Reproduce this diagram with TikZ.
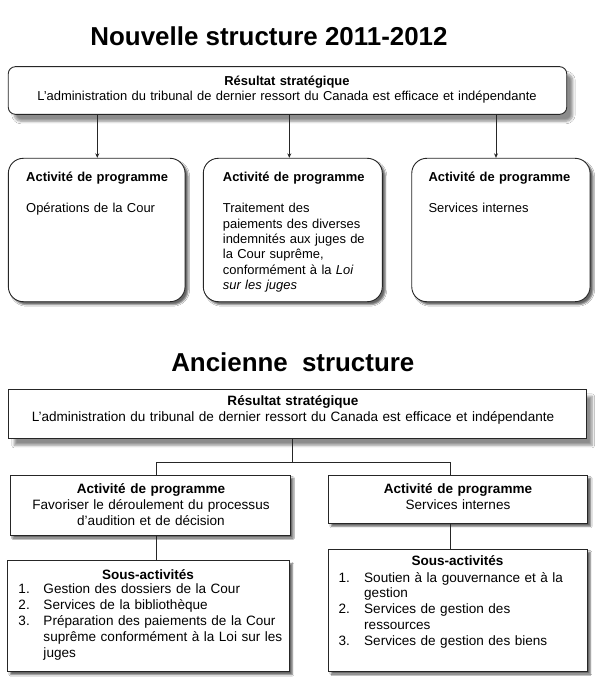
\documentclass[tikz,border=0pt]{standalone}
\usepackage{fontspec}
\setmainfont{Liberation Sans}
\usetikzlibrary{shadows.blur,arrows.meta,calc}
\begin{document}
\begin{tikzpicture}[x=1bp,y=-1bp,
  line/.style={draw=black!85, line width=0.9bp},
  bigshadow/.style={blur shadow={shadow xshift=6bp, shadow yshift=-7bp, shadow blur radius=2.5bp, shadow blur steps=6, shadow opacity=45}},
  smallshadow/.style={blur shadow={shadow xshift=3bp, shadow yshift=-3bp, shadow blur radius=1.5bp, shadow blur steps=4, shadow opacity=60}},
  box/.style={line, fill=white, inner sep=0pt},
  titletxt/.style={font=\fontsize{26}{30}\selectfont\bfseries, inner sep=0pt},
  txt/.style={font=\fontsize{13}{15.5}\selectfont, inner sep=0pt},
  txtb/.style={font=\fontsize{13.6}{16}\selectfont, inner sep=0pt},
  conn/.style={draw=black!85, line width=0.9bp},
  arr/.style={conn, -{Stealth[length=4.5bp,width=4bp]}},
]
\useasboundingbox[fill=white] (0,0) rectangle (595,691);

% ---------- Nouvelle structure ----------
\node[titletxt, anchor=base] (title1) at (269,46) {Nouvelle structure 2011-2012};

\node[box, bigshadow, rounded corners=7bp, minimum width=558.4bp, minimum height=47.6bp] (rs1) at (287.5,90.5) {};
\node[txt, anchor=base, text width=550bp, align=center] (rs1t) at (287,85.3)
  {\textbf{Résultat stratégique}\\L'administration du tribunal de dernier ressort du Canada est efficace et indépendante};

\node[box, smallshadow, rounded corners=15bp, minimum width=176.7bp, minimum height=143.4bp] (ap1) at (96.7,230) {};
\node[box, smallshadow, rounded corners=15bp, minimum width=179bp, minimum height=143.4bp] (ap2) at (292.8,230) {};
\node[box, smallshadow, rounded corners=15bp, minimum width=178.3bp, minimum height=143.4bp] (ap3) at (500.9,230) {};

\node[txt, anchor=base west, text width=155bp, align=left] (ap1t) at (26,181.7)
  {\textbf{Activité de programme}\\[15.5bp]Opérations de la Cour};
\node[txt, anchor=base west, text width=158bp, align=left] (ap2t) at (222.7,181.7)
  {\textbf{Activité de programme}\\[15.5bp]Traitement des\\paiements des diverses\\indemnités aux juges de\\la Cour suprême,\\conformément à la \textit{Loi}\\\textit{sur les juges}};
\node[txt, anchor=base west, text width=155bp, align=left] (ap3t) at (428.3,181.7)
  {\textbf{Activité de programme}\\[15.5bp]Services internes};

\coordinate (a1) at ([xshift=0.6bp]ap1.north);
\coordinate (a2) at ([xshift=-3.5bp]ap2.north);
\coordinate (a3) at ([xshift=-4.9bp]ap3.north);
\draw[arr] (rs1.south -| a1) -- (a1);
\draw[arr] (rs1.south -| a2) -- (a2);
\draw[arr] (rs1.south -| a3) -- (a3);

% ---------- Ancienne structure ----------
\node[titletxt, anchor=base] (title2) at (292.8,371.7) {Ancienne\hspace{7bp} structure};

\node[box, bigshadow, minimum width=577.7bp, minimum height=49bp] (rs2) at (297.15,413.8) {};
\node[txtb, anchor=base, text width=570bp, align=center] (rs2t) at (293,405.7)
  {\textbf{Résultat stratégique}\\L'administration du tribunal de dernier ressort du Canada est efficace et indépendante};

\node[box, smallshadow, minimum width=280bp, minimum height=60bp] (ap4) at (150,505) {};
\node[box, smallshadow, minimum width=259.4bp, minimum height=48.3bp] (ap5) at (458,499.15) {};
\node[box, smallshadow, minimum width=282bp, minimum height=111bp] (sa1) at (148.3,616.2) {};
\node[box, smallshadow, minimum width=259bp, minimum height=122bp] (sa2) at (457.8,610) {};

\node[txtb, anchor=base, text width=275bp, align=center] (ap4t) at (151,493.3)
  {\textbf{Activité de programme}\\Favoriser le déroulement du processus\\d'audition et de décision};
\node[txtb, anchor=base, text width=255bp, align=center] (ap5t) at (458,493.3)
  {\textbf{Activité de programme}\\Services internes};

\node[txtb, anchor=base, font=\fontsize{13.6}{16}\selectfont\bfseries] (sa1h) at (148,579) {Sous-activités};
\node[txtb, anchor=base west, text width=20bp, align=left] (sa1n) at (18.3,593.5) {1.\\2.\\3.};
\node[txtb, anchor=base west, text width=245bp, align=left] (sa1t) at (43.3,593.5)
  {Gestion des dossiers de la Cour\\Services de la bibliothèque\\Préparation des paiements de la Cour\\suprême conformément à la Loi sur les\\juges};

\node[txtb, anchor=base, font=\fontsize{13.6}{16}\selectfont\bfseries] (sa2h) at (457.5,565) {Sous-activités};
\node[txtb, anchor=base west, text width=20bp, align=left] (sa2n) at (338.3,582) {1.\\[16bp]2.\\[16bp]3.};
\node[txtb, anchor=base west, text width=222bp, align=left] (sa2t) at (364,582)
  {Soutien à la gouvernance et à la\\gestion\\Services de gestion des\\ressources\\Services de gestion des biens};

\coordinate (bus) at (292.3,462.3);
\coordinate (c0) at ([xshift=-4.85bp]rs2.south);
\coordinate (c1) at ([xshift=6bp]ap4.north);
\coordinate (c2) at ([xshift=-7.3bp]ap5.north);
\coordinate (c3) at ([xshift=6.7bp]ap4.south);
\coordinate (c4) at ([xshift=-7.3bp]ap5.south);
\draw[conn] (c0) -- (c0 |- bus);
\draw[conn] (c1) -- (c1 |- bus) -- (c2 |- bus) -- (c2);
\draw[conn] (c3) -- (c3 |- sa1.north);
\draw[conn] (c4) -- (c4 |- sa2.north);
\end{tikzpicture}
\end{document}
